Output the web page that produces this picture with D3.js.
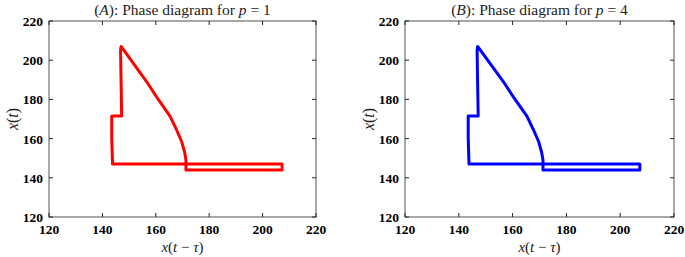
<html><head><meta charset="utf-8"><title>Phase diagrams</title>
<script src="https://d3js.org/d3.v7.min.js"></script>
<style>
body { margin: 0; background: #fff; }
svg text { font-family: "Liberation Serif", "Times New Roman", "DejaVu Serif", serif; }
</style>
</head>
<body>
<div id="chart"></div>
<script>
// x(t - tau) and x(t) along the closed loop
const delayA = [147, 146.8, 147.2, 147.2, 143.5, 143.5, 143.8, 171.3, 207.3, 207.3, 171.3, 171.3, 170.8, 169.7, 167.8, 165.3, 160.6, 156.6, 151.6, 147];
const stateA = [207, 205, 172, 171.5, 171.5, 160, 147, 147, 147, 144, 144, 149, 153, 158.4, 164.4, 171.5, 180.6, 189, 198.4, 207];
const delayB = [147, 146.8, 147.2, 147.2, 143.5, 143.5, 143.8, 171.3, 207.3, 207.3, 171.3, 171.3, 170.8, 169.7, 167.8, 165.3, 160.6, 156.6, 151.6, 147];
const stateB = [207, 205, 172, 171.5, 171.5, 160, 147, 147, 147, 144, 144, 149, 153, 158.4, 164.4, 171.5, 180.6, 189, 198.4, 207];
const ticks = [120, 140, 160, 180, 200, 220];

const svg = d3.select("#chart").append("svg")
    .attr("width", 685)
    .attr("height", 257);

function panel(left, right, delay, state, color, letter, pval) {
    const x = d3.scaleLinear().domain([120, 220]).range([left, right]);
    const y = d3.scaleLinear().domain([120, 220]).range([217, 21]);
    const g = svg.append("g");

    // box
    g.append("rect")
        .attr("x", left).attr("y", 21)
        .attr("width", right - left).attr("height", 196)
        .attr("fill", "#fff")
        .attr("stroke", "#262626")
        .attr("stroke-width", 0.8);

    // inward ticks on all four sides
    ticks.forEach(t => {
        g.append("line").attr("x1", x(t)).attr("x2", x(t)).attr("y1", 217).attr("y2", 213).attr("stroke", "#262626");
        g.append("line").attr("x1", x(t)).attr("x2", x(t)).attr("y1", 21).attr("y2", 25).attr("stroke", "#262626");
        g.append("line").attr("x1", left).attr("x2", left + 4).attr("y1", y(t)).attr("y2", y(t)).attr("stroke", "#262626");
        g.append("line").attr("x1", right).attr("x2", right - 4).attr("y1", y(t)).attr("y2", y(t)).attr("stroke", "#262626");

        g.append("text")
            .attr("x", x(t)).attr("y", 234)
            .attr("text-anchor", "middle")
            .attr("font-weight", "bold")
            .attr("font-size", 13.5)
            .text(t);
        g.append("text")
            .attr("x", left - 6).attr("y", y(t) + 5)
            .attr("text-anchor", "end")
            .attr("font-weight", "bold")
            .attr("font-size", 13.5)
            .text(t);
    });

    const pts = delay.map((d, i) => [d, state[i]]);
    const line = d3.line().x(d => x(d[0])).y(d => y(d[1]));
    g.append("path")
        .attr("d", line(pts) + "Z")
        .attr("fill", "none")
        .attr("stroke", color)
        .attr("stroke-width", 3)
        .attr("stroke-linejoin", "round");

    const cx = (left + right) / 2;

    // title
    const title = g.append("text")
        .attr("x", cx).attr("y", 15)
        .attr("text-anchor", "middle")
        .attr("font-size", 15.5)
        .attr("fill", "#222");
    title.append("tspan").text("(");
    title.append("tspan").attr("font-style", "italic").text(letter);
    title.append("tspan").text("): Phase diagram for ");
    title.append("tspan").attr("font-style", "italic").text("p");
    title.append("tspan").text(" = " + pval);

    // x label
    const xl = g.append("text")
        .attr("x", cx).attr("y", 252)
        .attr("text-anchor", "middle")
        .attr("font-size", 15)
        .attr("fill", "#222");
    xl.append("tspan").attr("font-style", "italic").text("x");
    xl.append("tspan").text("(");
    xl.append("tspan").attr("font-style", "italic").text("t");
    xl.append("tspan").text(" − ");
    xl.append("tspan").attr("font-style", "italic").text("τ");
    xl.append("tspan").text(")");

    // y label
    const yl = g.append("text")
        .attr("transform", `translate(${left - 31},119) rotate(-90)`)
        .attr("text-anchor", "middle")
        .attr("font-size", 16)
        .attr("fill", "#222");
    yl.append("tspan").attr("font-style", "italic").text("x");
    yl.append("tspan").text("(");
    yl.append("tspan").attr("font-style", "italic").text("t");
    yl.append("tspan").text(")");
}

panel(49, 316, delayA, stateA, "#ff0000", "A", 1);
panel(405, 674, delayB, stateB, "#0000ff", "B", 4);
</script>
</body></html>
